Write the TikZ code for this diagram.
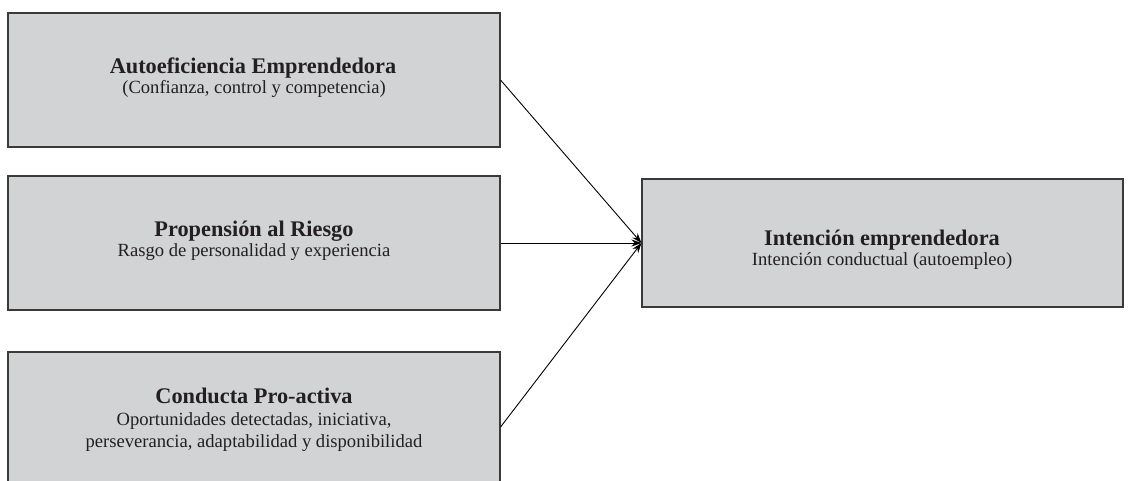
\documentclass[tikz,border=0pt]{standalone}
\usepackage{fontspec}
\setmainfont{Liberation Serif}
\usetikzlibrary{arrows.meta,calc}
\definecolor{boxfill}{HTML}{D1D3D4}
\definecolor{boxline}{HTML}{3A3A3A}
\definecolor{txt}{HTML}{231F20}
\tikzset{
  box/.style={draw=boxline, line width=1.1pt, fill=boxfill, rectangle, inner sep=0pt},
  ttl/.style={anchor=base, text=txt, font=\fontsize{22.3}{24}\selectfont\bfseries, inner sep=0pt},
  sub/.style={anchor=base, text=txt, font=\fontsize{18.6}{22}\selectfont, inner sep=0pt},
  conn/.style={draw=black, line width=0.9pt, -{Stealth[length=10pt,width=7pt]}}
}
\begin{document}
\begin{tikzpicture}[x=1pt,y=-1pt]
\useasboundingbox (0,0) rectangle (1131,481);
\begin{scope}
\clip (0,0) rectangle (1131,481);
\node[box, minimum width=492pt, minimum height=134pt] (b1) at (254,80) {};
\node[box, minimum width=492pt, minimum height=134pt] (b2) at (254,243) {};
\node[box, minimum width=492pt, minimum height=150pt] (b3) at (254,427) {};
\node[box, minimum width=481pt, minimum height=128pt] (b4) at (882.5,243) {};
\end{scope}
\node[ttl] (t1) at (253,74) {Autoeficiencia Emprendedora};
\node[sub] (s1) at (254,94) {(Confianza, control y competencia)};
\node[ttl] (t2) at (254,236) {Propensión al Riesgo};
\node[sub] (s2) at (254,256.5) {Rasgo de personalidad y experiencia};
\node[ttl] (t3) at (254,403) {Conducta Pro-activa};
\node[sub] (s3a) at (254,425) {Oportunidades detectadas, iniciativa,};
\node[sub] (s3b) at (254,447) {perseverancia, adaptabilidad y disponibilidad};
\node[ttl] (t4) at (882,245) {Intención emprendedora};
\node[sub] (s4) at (882,265) {Intención conductual (autoempleo)};
\draw[conn] (b1.east) -- (b4.west);
\draw[conn] (b2.east) -- (b4.west);
\draw[conn] (b3.east) -- (b4.west);
\end{tikzpicture}
\end{document}
